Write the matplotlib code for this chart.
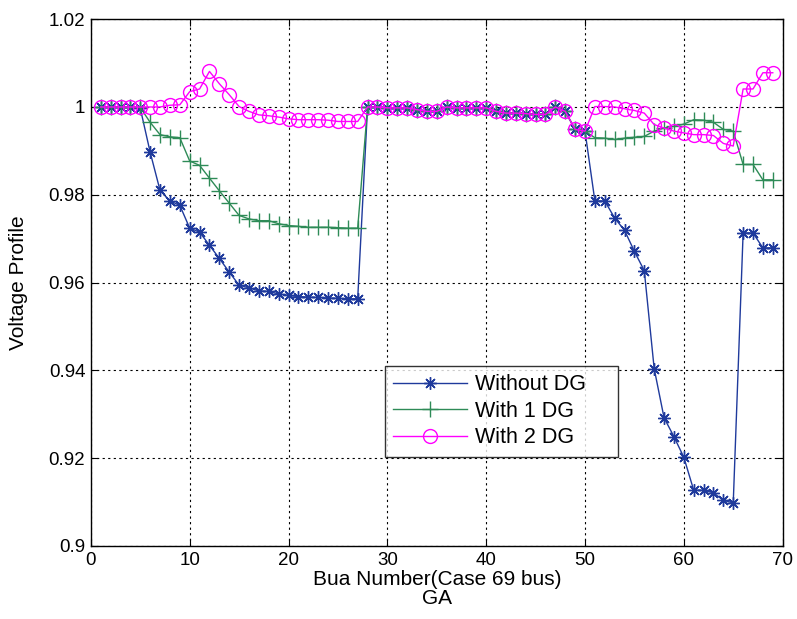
import matplotlib
matplotlib.use("Agg")
import matplotlib.pyplot as plt
import numpy as np

plt.rcParams['font.family'] = ['Liberation Sans', 'DejaVu Sans']

bus = list(range(1, 70))

without_dg = [
    1.0, 1.0, 1.0, 0.9999, 0.9997, 0.9897, 0.9810, 0.9786, 0.9776, 0.9724,
    0.9715, 0.9685, 0.9655, 0.9624, 0.9594, 0.9588, 0.9581, 0.9580, 0.9574, 0.9571,
    0.9568, 0.9567, 0.9566, 0.9565, 0.9564, 0.9563, 0.9563, 1.0, 1.0, 0.9998,
    0.9998, 0.9998, 0.9994, 0.9990, 0.9990, 1.0, 0.9998, 0.9998, 0.9998, 0.9998,
    0.9990, 0.9986, 0.9986, 0.9985, 0.9983, 0.9983, 1.0, 0.9990, 0.9949, 0.9945,
    0.9786, 0.9786, 0.9747, 0.9719, 0.9671, 0.9627, 0.9404, 0.9292, 0.9249, 0.9202,
    0.9127, 0.9127, 0.9121, 0.9104, 0.9098, 0.9713, 0.9713, 0.9679, 0.9679,
]

with_1dg = [
    1.0, 1.0, 1.0, 1.0, 0.9999, 0.9965, 0.9937, 0.9932, 0.9930, 0.9877,
    0.9867, 0.9838, 0.9809, 0.9781, 0.9753, 0.9745, 0.9741, 0.9741, 0.9734, 0.9730,
    0.9728, 0.9726, 0.9726, 0.9726, 0.9725, 0.9724, 0.9724, 1.0, 1.0, 0.9998,
    0.9998, 0.9998, 0.9994, 0.9990, 0.9990, 1.0, 0.9998, 0.9998, 0.9998, 0.9998,
    0.9990, 0.9986, 0.9986, 0.9985, 0.9983, 0.9983, 1.0, 0.9990, 0.9949, 0.9945,
    0.9930, 0.9929, 0.9926, 0.9929, 0.9931, 0.9933, 0.9945, 0.9952, 0.9956, 0.9961,
    0.9971, 0.9970, 0.9965, 0.9949, 0.9945, 0.9869, 0.9869, 0.9834, 0.9834,
]

with_2dg = [
    1.0, 1.0, 1.0, 1.0, 1.0, 1.0, 1.0, 1.0004, 1.0005, 1.0035,
    1.0041, 1.0081, 1.0053, 1.0028, 1.0001, 0.9990, 0.9982, 0.9980, 0.9977, 0.9973,
    0.9971, 0.9971, 0.9971, 0.9970, 0.9967, 0.9967, 0.9967, 1.0, 1.0, 0.9998,
    0.9998, 0.9998, 0.9994, 0.9990, 0.9990, 1.0, 0.9998, 0.9998, 0.9998, 0.9998,
    0.9990, 0.9986, 0.9986, 0.9985, 0.9983, 0.9983, 1.0, 0.9990, 0.9949, 0.9945,
    1.0001, 1.0001, 1.0, 0.9996, 0.9992, 0.9986, 0.9960, 0.9952, 0.9945, 0.9941,
    0.9937, 0.9937, 0.9935, 0.9917, 0.9911, 1.0041, 1.0041, 1.0078, 1.0078,
]

series_labels = ['Without DG', 'With 1 DG', 'With 2 DG']
x_ticks = [0, 10, 20, 30, 40, 50, 60, 70]
y_ticks = [0.9, 0.92, 0.94, 0.96, 0.98, 1.0, 1.02]
y_tick_labels = ['0.9', '0.92', '0.94', '0.96', '0.98', '1', '1.02']

fig = plt.figure(figsize=(7.97, 6.19), dpi=100)
ax = fig.add_axes([0.114, 0.118, 0.868, 0.851])

blue = '#1f3a9c'
green = '#2e8b57'
magenta = '#ff00ff'

ax.plot(bus, without_dg, color=blue, lw=1.0, marker=(8, 2, 0), ms=9, mew=1.0,
        label=series_labels[0])
ax.plot(bus, with_1dg, color=green, lw=1.0, marker='+', ms=11, mew=1.0,
        label=series_labels[1])
ax.plot(bus, with_2dg, color=magenta, lw=1.0, marker='o', ms=10, mew=1.0,
        mfc='none', label=series_labels[2])

ax.set_xlim(0, 70)
ax.set_ylim(0.9, 1.02)
ax.set_xticks(x_ticks)
ax.set_yticks(y_ticks)
ax.set_yticklabels(y_tick_labels)
ax.tick_params(direction='in', labelsize=13.5, length=5, top=True, right=True,
               labeltop=False, labelright=False, pad=4)
ax.grid(True, color='black', linestyle=(0, (2, 3)), lw=0.8)
for s in ax.spines.values():
    s.set_linewidth(1.0)

ax.set_xlabel('Bua Number(Case 69 bus)\nGA', fontsize=15, labelpad=1, linespacing=1.0)
ax.set_ylabel('Voltage Profile', fontsize=15, labelpad=15)

leg = ax.legend(loc='upper left', bbox_to_anchor=(0.425, 0.342, 0.337, 0.0),
                mode='expand', fontsize=15.5, frameon=True, fancybox=False,
                edgecolor='black', borderaxespad=0, handlelength=3.4,
                handletextpad=0.4, labelspacing=0.25, borderpad=0.4)
leg.get_frame().set_linewidth(1.0)

fig.savefig('out.png', dpi=100)
